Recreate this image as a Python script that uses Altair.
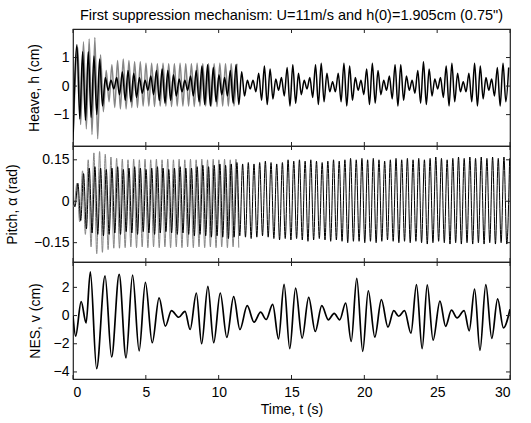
import altair as alt
import numpy as np
import pandas as pd

# ---------------- data ----------------
TITLE = 'First suppression mechanism: U=11m/s and h(0)=1.905cm (0.75")'
X_TICKS = [0, 5, 10, 15, 20, 25, 30]
H_TICKS = [-1, 0, 1]
P_TICKS = [-0.15, 0, 0.15]
V_TICKS = [-4, -2, 0, 2]

HALF_PERIOD = 0.195          # read spacing between successive extrema (s)
H0 = -1.9                    # starting heave (cm)

# Heave, black (with NES): successive peaks / troughs
heave_blk_peaks = [1.45, 1.2, 1.2, 1.05, 0.95, 0.3, 0.2, 0.3, 0.5, 0.55,
                   0.45, 0.3, 0.2, 0.35, 0.55, 0.6, 0.55, 0.4, 0.25, 0.2,
                   0.35, 0.55, 0.7, 0.75, 0.65, 0.4, 0.3, 0.55, 0.75, 0.5,
                   0.2, 0.2, 0.45, 0.7, 0.6, 0.25, 0.3, 0.65, 0.75, 0.45,
                   0.2, 0.3, 0.75, 0.8, 0.45, 0.15, 0.45, 0.8, 0.7, 0.3,
                   0.2, 0.6, 0.8, 0.55, 0.2, 0.35, 0.75, 0.75, 0.35, 0.2,
                   0.55, 0.85, 0.6, 0.25, 0.3, 0.7, 0.8, 0.45, 0.15, 0.45,
                   0.8, 0.7, 0.3, 0.25, 0.65, 0.8, 0.65]
heave_blk_troughs = [-1.15, -1.2, -1.1, -1.0, -0.7, -0.15, -0.1, -0.3, -0.5, -0.55,
                     -0.4, -0.25, -0.15, -0.3, -0.5, -0.6, -0.5, -0.35, -0.2, -0.15,
                     -0.35, -0.55, -0.65, -0.7, -0.55, -0.3, -0.35, -0.6, -0.65, -0.35,
                     -0.1, -0.2, -0.5, -0.65, -0.45, -0.15, -0.35, -0.7, -0.6, -0.3,
                     -0.1, -0.4, -0.65, -0.55, -0.2, -0.2, -0.55, -0.7, -0.5, -0.15,
                     -0.3, -0.65, -0.6, -0.3, -0.15, -0.45, -0.7, -0.5, -0.15, -0.25,
                     -0.6, -0.65, -0.35, -0.1, -0.4, -0.7, -0.55, -0.2, -0.2, -0.55,
                     -0.7, -0.45, -0.15, -0.35, -0.7, -0.55]
# Heave, grey (without NES), up to ~11.3 s
heave_gry_peaks = [1.35, 1.55, 1.65, 1.7, 1.1, 0.55, 0.75, 0.9, 0.95, 0.9,
                   0.85, 0.85, 0.8, 0.8, 0.78, 0.8, 0.78, 0.78, 0.8, 0.78,
                   0.78, 0.8, 0.78, 0.78, 0.78, 0.8, 0.78, 0.78, 0.78]
heave_gry_troughs = [-1.35, -1.5, -1.7, -1.85, -0.9, -0.55, -0.75, -0.8, -0.8, -0.75,
                     -0.75, -0.7, -0.7, -0.72, -0.7, -0.7, -0.72, -0.7, -0.7, -0.7,
                     -0.72, -0.7, -0.7, -0.7, -0.72, -0.7, -0.7, -0.7]

# Pitch, black
pitch_blk_peaks = [0.065, 0.10, 0.12, 0.125, 0.12, 0.115, 0.12, 0.125, 0.115, 0.12,
                   0.125, 0.12, 0.115, 0.12, 0.125, 0.12, 0.115, 0.12, 0.125, 0.12,
                   0.12, 0.125, 0.13, 0.125, 0.13, 0.135, 0.13, 0.135, 0.14, 0.135,
                   0.14, 0.135, 0.14, 0.145, 0.14, 0.135, 0.14, 0.15, 0.145, 0.15,
                   0.145, 0.15, 0.145, 0.14, 0.145, 0.15, 0.145, 0.15, 0.155, 0.15,
                   0.155, 0.15, 0.155, 0.15, 0.145, 0.15, 0.155, 0.15, 0.155, 0.15,
                   0.155, 0.15, 0.155, 0.16, 0.155, 0.15, 0.155, 0.16, 0.155, 0.16,
                   0.155, 0.16, 0.155, 0.16, 0.155, 0.16, 0.155]
pitch_blk_troughs = [-0.02, -0.07, -0.10, -0.115, -0.12, -0.125, -0.12, -0.115, -0.12, -0.11,
                     -0.115, -0.12, -0.11, -0.115, -0.12, -0.115, -0.11, -0.115, -0.12, -0.115,
                     -0.12, -0.125, -0.12, -0.125, -0.13, -0.125, -0.13, -0.135, -0.13, -0.125,
                     -0.13, -0.135, -0.13, -0.125, -0.13, -0.135, -0.14, -0.135, -0.14, -0.135,
                     -0.14, -0.145, -0.14, -0.135, -0.14, -0.145, -0.14, -0.145, -0.15, -0.145,
                     -0.145, -0.15, -0.145, -0.15, -0.145, -0.14, -0.145, -0.15, -0.145, -0.15,
                     -0.145, -0.15, -0.155, -0.15, -0.145, -0.15, -0.155, -0.15, -0.155, -0.15,
                     -0.155, -0.15, -0.155, -0.15, -0.155, -0.15, -0.155]
# Pitch, grey, up to ~11.4 s
pitch_gry_peaks = [0.065, 0.11, 0.15, 0.175, 0.18, 0.17, 0.16, 0.155, 0.152, 0.15,
                   0.152, 0.15, 0.152, 0.15, 0.152, 0.15, 0.152, 0.15, 0.152, 0.15,
                   0.152, 0.15, 0.152, 0.15, 0.152, 0.15, 0.152, 0.15, 0.152]
pitch_gry_troughs = [-0.02, -0.075, -0.12, -0.165, -0.19, -0.185, -0.175, -0.17, -0.17, -0.168,
                     -0.165, -0.168, -0.165, -0.168, -0.165, -0.168, -0.165, -0.168, -0.165, -0.168,
                     -0.165, -0.168, -0.165, -0.168, -0.165, -0.168, -0.165, -0.168, -0.165, -0.168]

# NES displacement: extrema times and values
nes_t = [0.0, 0.18, 0.56, 0.9, 1.19, 1.62, 2.2, 2.65, 3.17, 3.64, 4.09, 4.54, 4.97,
         5.44, 5.91, 6.34, 6.76, 7.26, 7.69, 8.04, 8.47, 8.83, 9.26, 9.66, 10.11,
         10.56, 11.03, 11.46, 11.96, 12.43, 12.88, 13.26, 13.71, 14.11, 14.49, 14.88,
         15.28, 15.73, 16.18, 16.63, 17.08, 17.53, 17.93, 18.31, 18.72, 19.1, 19.48,
         19.89, 20.27, 20.72, 21.17, 21.62, 22.02, 22.36, 22.76, 23.2, 23.58, 23.97,
         24.32, 24.72, 25.19, 25.58, 25.98, 26.37, 26.85, 27.2, 27.57, 27.94, 28.34,
         28.75, 29.15, 29.55, 30.0]
nes_v = [0.0, -1.46, 0.99, -0.52, 3.1, -3.76, 2.82, -2.94, 2.92, -3.0, 2.87, -2.5, 2.35,
         -1.93, 1.25, -0.75, 0.35, -0.12, 0.3, -0.99, 1.6, -2.0, 2.07, -1.93, 1.6,
         -1.55, 1.34, -0.99, 0.7, -0.47, 0.24, -0.28, 0.8, -1.65, 2.21, -2.35,
         1.95, -1.6, 1.29, -1.13, 0.7, -0.3, 0.16, -0.3, 0.89, -1.84, 2.64,
         -2.54, 1.76, -1.53, 1.13, -0.82, 0.35, -0.05, 0.35, -1.25, 2.2, -2.35,
         2.18, -1.75, 1.03, -0.76, 0.38, -0.17, 0.35, -1.08, 1.88, -2.47, 2.19,
         -1.62, 1.18, -0.88, 0.45]


# ---------------- build tables ----------------
def extrema_table(t_first_peak, peaks, t_first_trough, troughs, start=None):
    ts, vs = [], []
    for k, v in enumerate(peaks):
        ts.append(t_first_peak + 2 * HALF_PERIOD * k); vs.append(v)
    for k, v in enumerate(troughs):
        ts.append(t_first_trough + 2 * HALF_PERIOD * k); vs.append(v)
    if start is not None:
        ts.append(0.0); vs.append(start)
    df = pd.DataFrame({"t": ts, "v": vs}).sort_values("t")
    return df[df.t <= 30].reset_index(drop=True)

heave_blk = extrema_table(0.27, heave_blk_peaks, 0.465, heave_blk_troughs, H0)
heave_gry = extrema_table(0.33, heave_gry_peaks, 0.525, heave_gry_troughs, H0)
pitch_blk = extrema_table(0.335, pitch_blk_peaks, 0.14, pitch_blk_troughs, 0.0)
pitch_gry = extrema_table(0.265, pitch_gry_peaks, 0.07, pitch_gry_troughs, 0.0)
nes = pd.DataFrame({"t": nes_t, "v": nes_v})

W = 437
FONT = "Liberation Sans"
FS = 14
TICK = 4


def panel(black, grey, ydom, yticks, ytitle, title_x, height, bottom, label_expr=None,
          lw=1.5):
    xs = alt.Scale(domain=[0, 30], nice=False, zero=False)
    ys = alt.Scale(domain=ydom, nice=False, zero=False)
    if bottom:
        xax = alt.Axis(values=X_TICKS, title="Time, t (s)", ticks=False, domain=False,
                       grid=False, labelPadding=6, titlePadding=3, format="d")
    else:
        xax = None
    yargs = dict(values=yticks, title=ytitle, ticks=False, domain=False, grid=False,
                 labelPadding=4, titleX=title_x, titleY=height / 2)
    if label_expr:
        yargs["labelExpr"] = label_expr
    yax = alt.Axis(**yargs)
    X = alt.X("t:Q", scale=xs, axis=xax)
    Y = alt.Y("v:Q", scale=ys, axis=yax)
    layers = []
    if grey is not None:
        layers.append(alt.Chart(grey).mark_line(color="#858585", strokeWidth=lw,
                                                interpolate="monotone", clip=True)
                      .encode(x=X, y=Y))
    layers.append(alt.Chart(black).mark_line(color="#000000", strokeWidth=lw,
                                             interpolate="monotone", clip=True)
                  .encode(x=X, y=Y))
    xt = pd.DataFrame({"t": X_TICKS})
    yt = pd.DataFrame({"v": yticks})
    layers.append(alt.Chart(xt).mark_rule(color="#222", strokeWidth=1)
                  .encode(x=X, y=alt.value(0), y2=alt.value(TICK)))
    layers.append(alt.Chart(xt).mark_rule(color="#222", strokeWidth=1)
                  .encode(x=X, y=alt.value(height), y2=alt.value(height - TICK)))
    layers.append(alt.Chart(yt).mark_rule(color="#222", strokeWidth=1)
                  .encode(y=Y, x=alt.value(0), x2=alt.value(TICK)))
    layers.append(alt.Chart(yt).mark_rule(color="#222", strokeWidth=1)
                  .encode(y=Y, x=alt.value(W), x2=alt.value(W - TICK)))
    return alt.layer(*layers).properties(width=W, height=height)


p1 = panel(heave_blk, heave_gry, [-2.1, 2.0], H_TICKS, "Heave, h (cm)", -32, 117, False,
           lw=1.5)
p2 = panel(pitch_blk, pitch_gry, [-0.22, 0.2], P_TICKS, "Pitch, \u03b1 (rad)", -54, 116, False,
           "datum.value == 0 ? '0' : format(datum.value, '.2f')", lw=1.0)
p3 = panel(nes, None, [-4.5, 3.8], V_TICKS, "NES, v (cm)", -31, 117, True, lw=1.7)

chart = (
    alt.vconcat(p1, p2, p3, spacing=0, bounds="flush")
    .properties(
        title=alt.TitleParams(TITLE, font=FONT, fontSize=14.5, fontWeight="normal",
                              anchor="middle", frame="group", offset=4, color="#000"),
        padding={"left": 4, "top": 8, "right": 5, "bottom": 5},
        background="white",
    )
    .configure_view(stroke="#222", strokeWidth=1.2)
    .configure_axis(labelFont=FONT, titleFont=FONT, labelFontSize=FS, titleFontSize=FS,
                    labelColor="#000", titleColor="#000", titleFontWeight="normal")
)

chart.save("out.html", embed_options={"renderer": "svg", "actions": False})
